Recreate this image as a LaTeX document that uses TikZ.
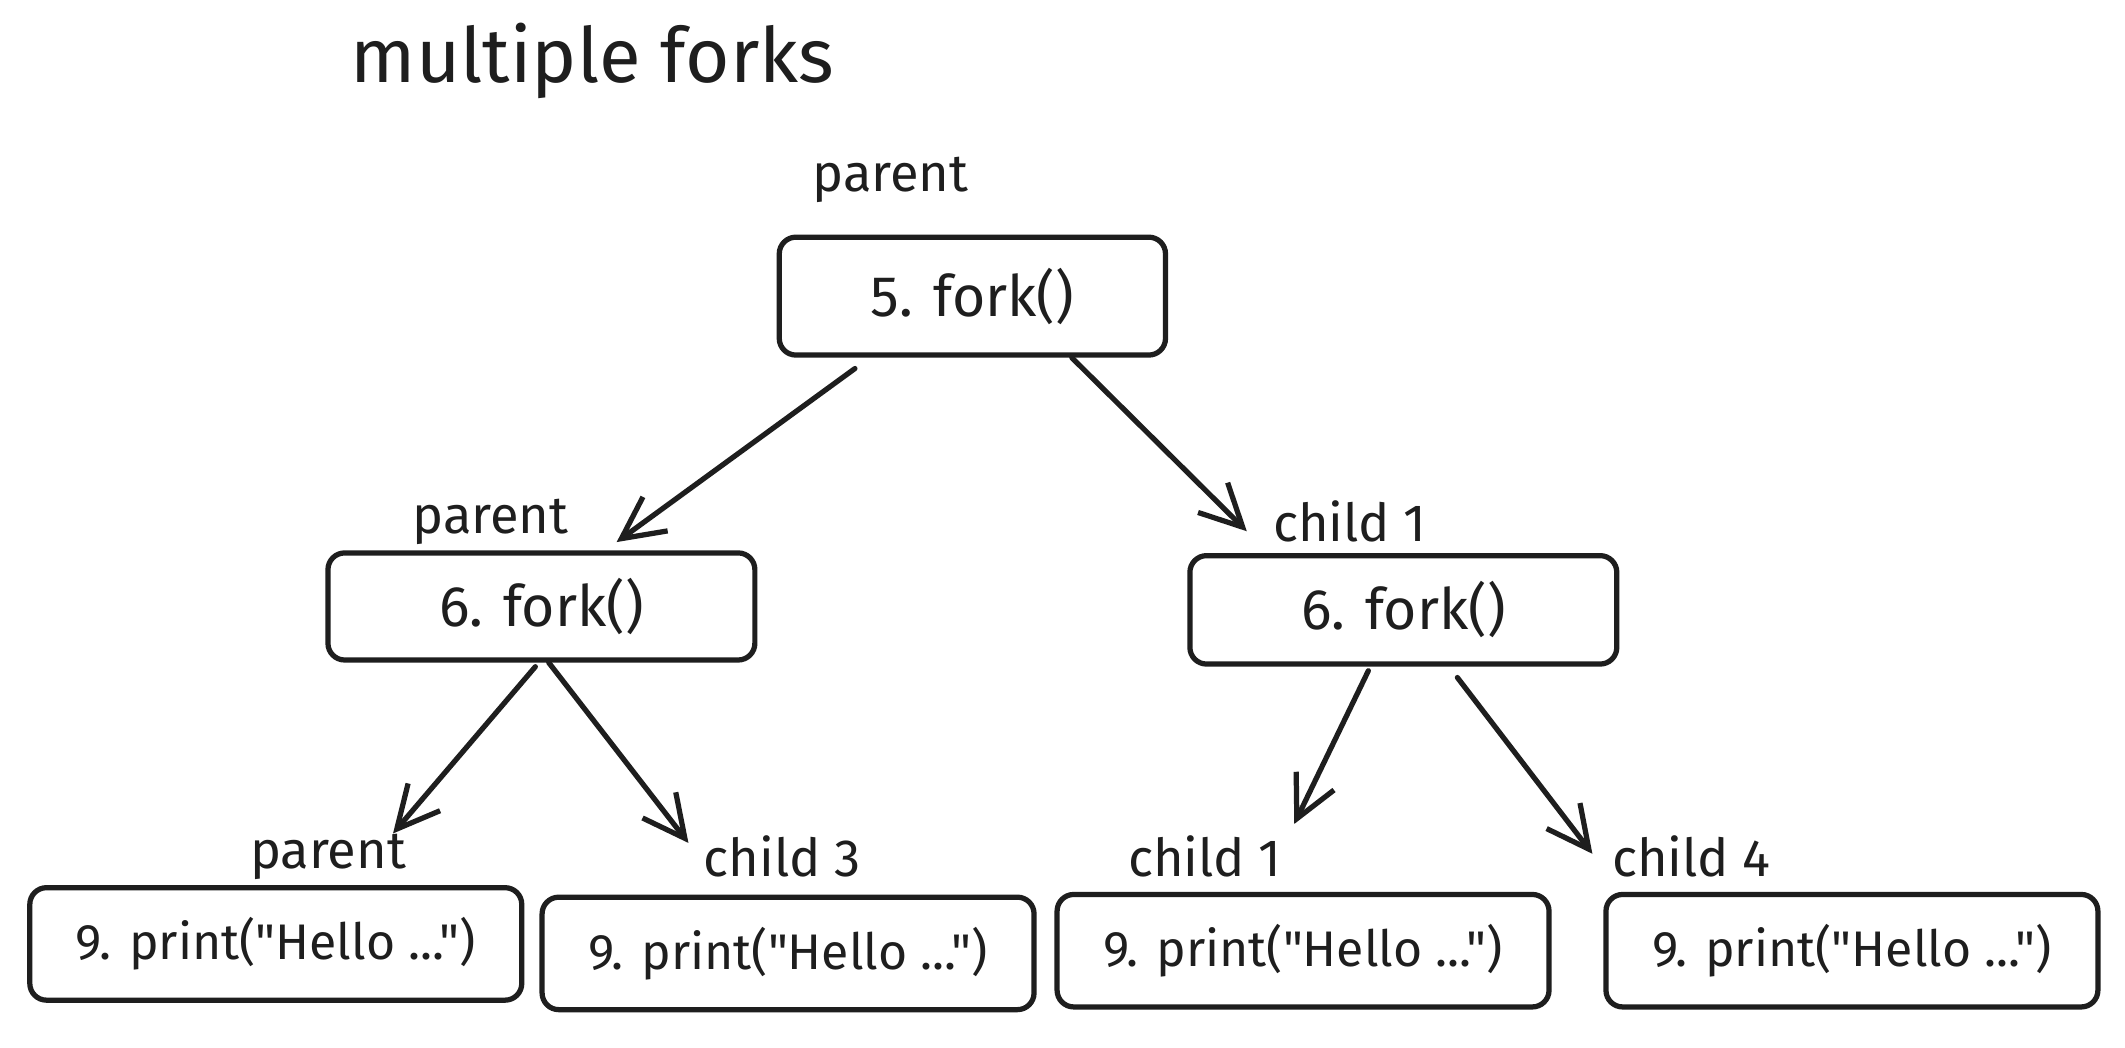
\documentclass[tikz,border=0pt]{standalone}
\usepackage{fontspec}
\setmainfont{Fira Sans}[Ligatures=TeXOff]
\usetikzlibrary{arrows.meta,calc}
\definecolor{ink}{HTML}{1E1E1E}
\tikzset{
  box/.style={draw=ink, line width=2.2pt, rounded corners=7pt, inner sep=0pt, text=ink, font=\fontsize{21}{25}\selectfont},
  forkbox/.style={box, font=\fontsize{24}{28}\selectfont},
  lbl/.style={inner sep=0pt, text=ink, font=\fontsize{22}{26}\selectfont},
  conn/.style={draw=ink, line width=2.2pt, line cap=round, -{Straight Barb[length=0.62cm,width=0.62cm,line width=2.2pt]}}
}
\begin{document}
\begin{tikzpicture}[x=0.02cm,y=-0.02cm]
\path[use as bounding box,fill=white] (0,0) rectangle (1568,773);
\node[lbl, font=\fontsize{32}{38}\selectfont] (title) at (437,45) {multiple forks};
% boxes
\node[forkbox, minimum width=285*0.02cm, minimum height=87*0.02cm] (top) at (717.5,218.5) {5. fork()};
\node[forkbox, minimum width=315*0.02cm, minimum height=79*0.02cm] (L) at (399.5,447.5) {6. fork()};
\node[forkbox, minimum width=315*0.02cm, minimum height=80*0.02cm] (R) at (1035.5,450) {6. fork()};
\node[box, minimum width=363*0.02cm, minimum height=83*0.02cm] (B1) at (203.5,696.5) {9. print("Hello ...")};
\node[box, minimum width=363*0.02cm, minimum height=83*0.02cm] (B2) at (581.5,703.5) {9. print("Hello ...")};
\node[box, minimum width=363*0.02cm, minimum height=83*0.02cm] (B3) at (961.5,701.5) {9. print("Hello ...")};
\node[box, minimum width=363*0.02cm, minimum height=83*0.02cm] (B4) at (1366.5,701.5) {9. print("Hello ...")};
% labels
\node[lbl] (l0) at (657,133) {parent};
\node[lbl] (l1) at (362,385) {parent};
\node[lbl] (l2) at (996,385) {child 1};
\node[lbl] (l3) at (242,632) {parent};
\node[lbl] (l4) at (577,632) {child 3};
\node[lbl] (l5) at (889,632) {child 1};
\node[lbl] (l6) at (1248,632) {child 4};
% arrow ends
\coordinate (e1) at (455,400);
\coordinate (e2) at (920,392);
\coordinate (e3) at (290,615);
\coordinate (e4) at (508,622);
\coordinate (e5) at (955,608);
\coordinate (e6) at (1175,630);
\draw[conn] ($(top.south west)!0.2!(top.south east)+(0,8)$) -- (e1);
\draw[conn] ($(top.south west)!0.754!(top.south east)$) -- (e2);
\draw[conn] ($(L.south west)!0.486!(L.south east)+(0,3)$) -- (e3);
\draw[conn] ($(L.south west)!0.517!(L.south east)$) -- (e4);
\draw[conn] ($(R.south west)!0.419!(R.south east)+(0,3)$) -- (e5);
\draw[conn] ($(R.south west)!0.625!(R.south east)+(0,8)$) -- (e6);
\end{tikzpicture}
\end{document}
